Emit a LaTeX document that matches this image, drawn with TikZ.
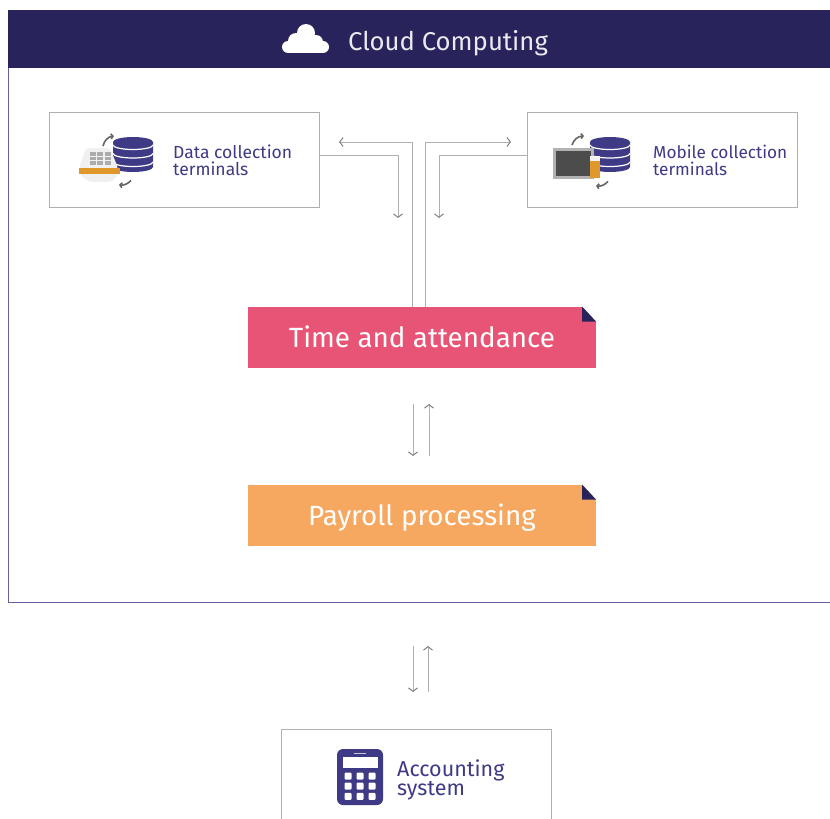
\documentclass[tikz,border=0pt]{standalone}
\usepackage{fontspec}
\setmainfont{Fira Sans}
\usetikzlibrary{arrows.meta,positioning}
\definecolor{navy}{HTML}{29235C}
\definecolor{violet}{HTML}{3F3A85}
\definecolor{rosered}{HTML}{E85475}
\definecolor{sandorange}{HTML}{F7A860}
\definecolor{keygold}{HTML}{E0982A}
\definecolor{linegray}{HTML}{B0B0B0}
\tikzset{
    flow/.style={draw=linegray,line width=1pt,-{Straight Barb[length=3.5pt,width=9pt,color=gray]}},
    termbox/.style={rectangle,draw=linegray,line width=1pt,fill=white,minimum width=270pt,minimum height=95pt},
    termlabel/.style={align=left,anchor=west,inner sep=0pt,text=violet,font=\fontsize{17.5}{17}\selectfont},
    notebox/.style={rectangle,fill=#1,text=white,minimum width=348pt,minimum height=61pt,text height=23pt,text depth=3pt,font=\fontsize{27.8}{30}\selectfont,
        path picture={
            \fill [white] ([xshift=-14pt]path picture bounding box.north east) -- (path picture bounding box.north east) -- ([yshift=-15pt]path picture bounding box.north east) -- cycle;
            \fill [navy] ([xshift=-14pt]path picture bounding box.north east) -- ([yshift=-15pt]path picture bounding box.north east) -- ([xshift=-14pt,yshift=-15pt]path picture bounding box.north east) -- cycle;
        }},
    swing/.style={draw=gray!80!black,line width=1.6pt,-{Straight Barb[length=2pt,width=5pt]}},
}
\newcommand{\dbstack}[2]{%
    \fill [violet] (#1,#2+5) -- (#1,#2+30) arc [start angle=180,end angle=360,x radius=20,y radius=-5] -- (#1+40,#2+5) -- cycle;
    \fill [violet] (#1+20,#2+5) ellipse [x radius=20,y radius=5];
    \foreach \layer in {8,16.5,25}
        \draw [white,line width=1.2pt] (#1,#2+\layer) arc [start angle=180,end angle=360,x radius=20,y radius=-4.5];
}
\begin{document}
\begin{tikzpicture}[x=1pt,y=-1pt]
    \useasboundingbox (0,0) rectangle (830,819);
    % cloud frame
    \path [draw=violet!80,line width=1pt] (8,68) -- (8,602) -- (830,602);
    \node (cloudbar) at (419,39) [rectangle,fill=navy,minimum width=822pt,minimum height=58pt,inner sep=0pt] {};
    \node (cloudtitle) at (448,43) [text=white!90!navy,font=\fontsize{25.7}{30}\selectfont] {Cloud Computing};
    \fill [white] (306,33) circle [radius=9] (296,41) circle [radius=8] (316,42) circle [radius=7] (306,43) circle [radius=8];
    \fill [white] (288,47) circle [radius=6] (323,47) circle [radius=6];
    \fill [white] (288,43) rectangle (323,53);

    % boxes
    \node (datanode) at (184.5,160) [termbox] {};
    \node (mobilenode) at (662,160) [termbox] {};
    \node (accountnode) at (416,776.5) [termbox] {};
    \path [draw=linegray,line width=1pt] (281,729) -- (281,819) (551,729) -- (551,819);
    \fill [white] (280,819) rectangle (552,826);
    \node (datalabel) at (173,160.5) [termlabel] {Data collection\\terminals};
    \node (mobilelabel) at (653,160.5) [termlabel,font=\fontsize{17.2}{17}\selectfont] {Mobile collection\\terminals};
    \node (accountlabel) at (397,780) [termlabel,font=\fontsize{21.5}{17.5}\selectfont] {Accounting\\system};

    % notes
    \node (timenode) at (422,337) [notebox=rosered] {Time and attendance};
    \node (payrollnode) at (422,515) [notebox=sandorange] {Payroll processing};

    % terminal icon
    \dbstack{113}{137}
    \fill [gray!12,rounded corners=3pt] (86,148) -- (110,148) -- (118,168) -- (116,178) -- (110,182) -- (90,182) -- (81,176) -- (79,168) -- cycle;
    \foreach \col in {0,1,2} \foreach \row in {0,1,2}
        \fill [gray!65] (90+\col*7.3,152+\row*4.6) rectangle ++(6,3.5);
    \fill [keygold] (79,168) rectangle (120,174);
    \path [swing] (103,146) to[bend left=35] (114,136);
    \path [swing] (131,180.5) to[bend left=25] (119,185);

    % mobile icon
    \dbstack{590}{137}
    \fill [gray!60] (553,148) rectangle (594,179);
    \fill [black!70] (556,151) rectangle (591,176);
    \fill [gray!10] (590,156) rectangle (600,161);
    \fill [keygold] (590,161) rectangle (600,178);
    \path [swing] (572,145) to[bend left=35] (584,136);
    \path [swing] (608,181.5) to[bend left=25] (596,186);

    % calculator icon
    \fill [violet,rounded corners=6pt] (337,749) rectangle (383,805);
    \fill [white] (343,757) rectangle (378,768);
    \path [draw=white!70!violet,line width=1pt] (354,753) -- (366,753);
    \foreach \col in {0,1,2} \foreach \row in {0,1,2}
        \fill [white,rounded corners=1pt] (344.5+\col*12,772.5+\row*10.2) rectangle ++(7,7);

    % connectors
    \coordinate (datadrop) at (398,218);
    \coordinate (mobiledrop) at (439,218);
    \coordinate (databack) at (339,142);
    \coordinate (mobileback) at (511,142);
    \coordinate (timeleft) at (412,307);
    \coordinate (timeright) at (425,307);
    \path [flow] (datanode.east |- 0,155) -| (datadrop);
    \path [flow] (mobilenode.west |- 0,155) -| (mobiledrop);
    \path [flow] (timeleft) |- (databack);
    \path [flow] (timeright) |- (mobileback);

    \coordinate (timedown) at (413,404);
    \coordinate (paydown) at (413,456);
    \coordinate (payup) at (429,456);
    \coordinate (timeup) at (429,404);
    \path [flow] (timedown) -- (paydown);
    \path [flow] (payup) -- (timeup);

    \coordinate (clouddown) at (413,646);
    \coordinate (accdown) at (413,692);
    \coordinate (accup) at (428,692);
    \coordinate (cloudup) at (428,646);
    \path [flow] (clouddown) -- (accdown);
    \path [flow] (accup) -- (cloudup);
\end{tikzpicture}
\end{document}
